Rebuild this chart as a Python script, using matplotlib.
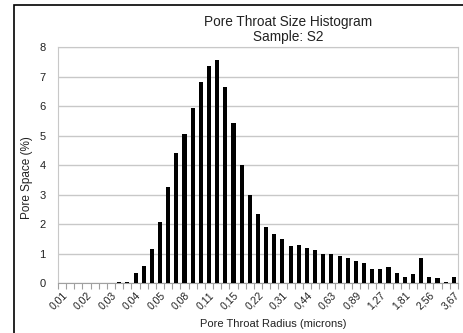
import numpy as np
import matplotlib
matplotlib.use("Agg")
import matplotlib.pyplot as plt
from matplotlib.patches import Rectangle

plt.rcParams['font.family'] = ['Liberation Sans', 'DejaVu Sans']

# pore throat radius classes (microns), labelled every third class
tick_labels = ["0,01", "0,02", "0,03", "0,04", "0,05", "0,08", "0,11", "0,15", "0,22",
               "0,31", "0,44", "0,63", "0,89", "1,27", "1,81", "2,56", "3,67"]
# pore space per class (%)
pore_space = [0, 0, 0, 0, 0, 0, 0, 0.05, 0.06, 0.35, 0.59, 1.17, 2.07, 3.25, 4.40, 5.07,
              5.93, 6.80, 7.35, 7.55, 6.65, 5.42, 4.02, 2.98, 2.33, 1.91, 1.68, 1.50, 1.25,
              1.29, 1.19, 1.12, 1.00, 1.00, 0.92, 0.87, 0.77, 0.70, 0.48, 0.50, 0.54, 0.35,
              0.21, 0.33, 0.87, 0.21, 0.19, 0.06, 0.20]

x = np.arange(len(pore_space))

fig = plt.figure(figsize=(4.63, 3.33), dpi=100)
ax = fig.add_axes([0.1253, 0.1492, 0.8637, 0.7097])

ax.bar(x, pore_space, width=0.5, color='black', zorder=3)

ax.set_xlim(-0.5, len(pore_space) - 0.5)
ax.set_ylim(0, 8)
ax.set_yticks(range(0, 9))
ax.yaxis.grid(True, color='#c8c8c8', linewidth=1.0, zorder=0)
ax.tick_params(axis='y', length=0, labelsize=8, colors='#222222', pad=9)

# labels every third class, tick marks between every class
ax.set_xticks(x[::3])
ax.set_xticklabels(tick_labels, rotation=45, ha='right', rotation_mode='anchor', fontsize=7.5, color='#222222')
ax.tick_params(axis='x', length=0, pad=5)
ax.set_xticks(np.arange(-0.5, len(pore_space), 1), minor=True)
ax.tick_params(axis='x', which='minor', length=4, color='#a0a0a0', width=0.8)

for side in ['top', 'right', 'left']:
    ax.spines[side].set_color('#c8c8c8')
ax.spines['bottom'].set_color('#a0a0a0')

ax.set_ylabel("Pore Space (%)", fontsize=8.5, color='#222222')
ax.yaxis.set_label_coords(-0.063, 0.446)
ax.set_xlabel("Pore Throat Radius (microns)", fontsize=8, color='#222222')
ax.xaxis.set_label_coords(0.5375, -0.151)

fig.text(288 / 463, 1 - 15 / 333, "Pore Throat Size Histogram\nSample: S2", ha='center', va='top',
         multialignment='center', fontsize=9.8, color='#222222', linespacing=1.05)

# outer chart frame
fig.patches.append(Rectangle((14 / 463, -0.1), 1.2, 1 - 5 / 333 + 0.1, transform=fig.transFigure,
                             fill=False, edgecolor='black', linewidth=1.2, clip_on=False))

fig.savefig("out.png", dpi=100)
